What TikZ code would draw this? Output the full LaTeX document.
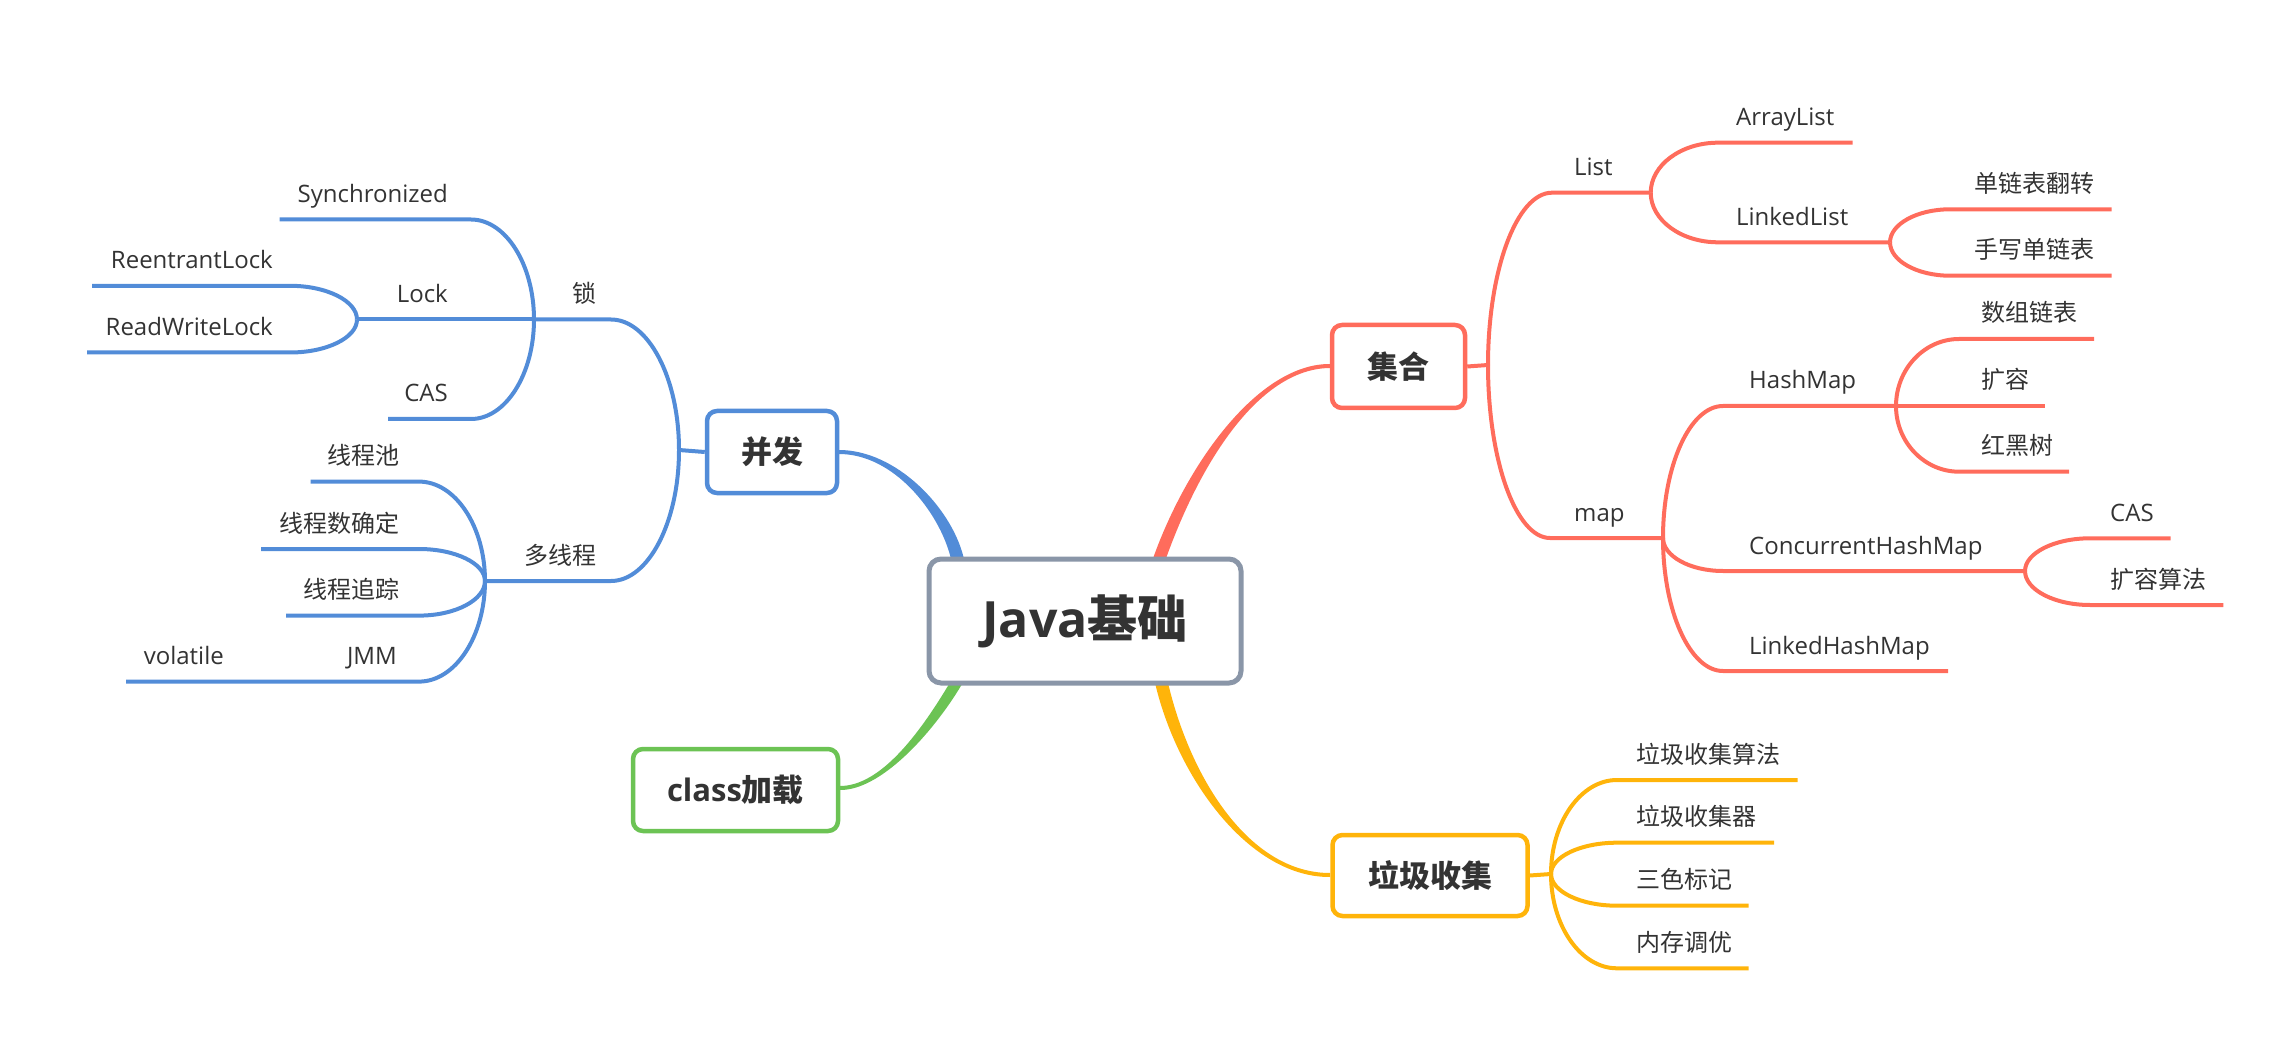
\documentclass[tikz,border=0pt]{standalone}
\usepackage{fontspec}
\setmainfont{Open Sans}
\newfontfamily\cjk{Noto Sans CJK SC}
\definecolor{cblue}{RGB}{82,140,216}
\definecolor{cred}{RGB}{255,108,92}
\definecolor{corange}{RGB}{255,180,10}
\definecolor{cgreen}{RGB}{108,195,84}
\definecolor{cgray}{RGB}{138,150,168}
\definecolor{ctext}{RGB}{51,51,51}
\tikzset{
  lblR/.style={anchor=base east, inner sep=0pt, text=ctext, font=\fontsize{24}{28}\selectfont},
  lblL/.style={anchor=base west, inner sep=0pt, text=ctext, font=\fontsize{24}{28}\selectfont},
  catbox/.style={draw=#1, line width=4.5pt, rounded corners=10pt, fill=white, text=ctext,
    font=\fontsize{31}{36}\selectfont\bfseries, inner sep=0pt},
  mainbox/.style={draw=cgray, line width=5pt, rounded corners=12pt, fill=white, text=ctext,
    font=\fontsize{50}{56}\selectfont\bfseries, inner sep=0pt},
  brline/.style={draw=#1, line width=4pt},
}
% branch: style, x0,y0 (junction), x1,y1 (corner), x2 (end of horizontal)
\newcommand{\mmbr}[6]{%
  \draw[brline=#1] (#2,#3) .. controls (#2,{#3+0.55*(#5-#3)}) and ({#2+0.45*(#4-#2)},#5) .. (#4,#5) -- (#6,#5);}
\begin{document}
\begin{tikzpicture}[x=1pt,y=-1pt]
\useasboundingbox (0,0) rectangle (2295,1064);

% ---------- tapered main connectors ----------
\fill[cblue] (839,450) .. controls (896,450) and (951,507) .. (963.5,557)
  -- (950.5,557) .. controls (939,512) and (894,454) .. (839,454) -- cycle;
\fill[cred] (1153.5,557) .. controls (1188.5,460) and (1260,363.5) .. (1330,364)
  -- (1330,368) .. controls (1260,368.5) and (1201.5,460) .. (1166.5,557) -- cycle;
\fill[cgreen] (948.5,685) .. controls (918.5,735) and (880,786) .. (840,786)
  -- (840,790) .. controls (880,790.5) and (931.5,735) .. (961.5,685) -- cycle;
\fill[corange] (1168.5,685) .. controls (1191.5,780) and (1250,873) .. (1330,873)
  -- (1330,877) .. controls (1250,877.5) and (1178.5,780) .. (1155.5,685) -- cycle;

% ---------- boxes ----------
\node[mainbox, minimum width=312pt, minimum height=124pt] (root) at (1085,621) {Java{\cjk 基础}};
\node[catbox=cblue, minimum width=130pt, minimum height=82pt] (bf) at (772,452) {\cjk 并发};
\node[catbox=cred, minimum width=133pt, minimum height=83pt] (jh) at (1398.5,366.5) {\cjk 集合};
\node[catbox=corange, minimum width=195pt, minimum height=81pt] (lj) at (1430,875.5) {\cjk 垃圾收集};
\node[catbox=cgreen, minimum width=205pt, minimum height=82pt] (cl) at (735.5,790) {class{\cjk 加载}};

% ---------- blue branches ----------
\coordinate (bfj) at (679,450);
\draw[brline=cblue] (bf.west) -- (bfj);
\mmbr{cblue}{679}{450}{611}{319.5}{534}
\mmbr{cblue}{679}{450}{611}{581}{485}
\mmbr{cblue}{534}{319.5}{471}{219.5}{279.5}
\draw[brline=cblue] (534,319.5) -- (357,319.5);
\mmbr{cblue}{534}{319.5}{471}{419}{388}
\mmbr{cblue}{357}{319.5}{290}{285.8}{92}
\mmbr{cblue}{357}{319.5}{290}{352.5}{87}
\mmbr{cblue}{485}{581}{419}{481.6}{310.6}
\mmbr{cblue}{485}{581}{419}{549}{261}
\mmbr{cblue}{485}{581}{419}{615.6}{286}
\mmbr{cblue}{485}{581}{419}{681.6}{126}

\node[lblR] (suo) at (597,302.5) {\cjk 锁};
\node[lblR] (dxc) at (597,564) {\cjk 多线程};
\node[lblR] (syn) at (448,202.5) {Synchronized};
\node[lblR] (lck) at (448,302.5) {Lock};
\node[lblR] (cas1) at (448,402) {CAS};
\node[lblR] (rel) at (273,268.8) {ReentrantLock};
\node[lblR] (rwl) at (273,335.5) {ReadWriteLock};
\node[lblR] (xcc) at (400,464.6) {\cjk 线程池};
\node[lblR] (xcs) at (400,532) {\cjk 线程数确定};
\node[lblR] (xcz) at (400,598.6) {\cjk 线程追踪};
\node[lblR] (jmm) at (397,664.6) {JMM};
\node[lblR] (vol) at (224,664.6) {volatile};

% ---------- red branches ----------
\coordinate (jhj) at (1488,365);
\draw[brline=cred] (jh.east) -- (jhj);
\mmbr{cred}{1488}{365}{1552}{192.7}{1650.7}
\mmbr{cred}{1488}{365}{1550}{538}{1663}
\mmbr{cred}{1650.7}{192.7}{1718}{142.7}{1852.6}
\mmbr{cred}{1650.7}{192.7}{1718}{242.3}{1890}
\mmbr{cred}{1890}{242.3}{1950}{209.3}{2111.5}
\mmbr{cred}{1890}{242.3}{1950}{275.7}{2111.5}
\mmbr{cred}{1663}{538}{1723}{406}{1896}
\mmbr{cred}{1663}{538}{1723}{571}{2025}
\mmbr{cred}{1663}{538}{1723}{671}{1948}
\mmbr{cred}{1896}{406}{1959}{339}{2094}
\draw[brline=cred] (1896,406) -- (2044.5,406);
\mmbr{cred}{1896}{406}{1959}{471.7}{2069}
\mmbr{cred}{2025}{571}{2090}{538.3}{2170.7}
\mmbr{cred}{2025}{571}{2090}{605}{2223.3}

\node[lblL] (lst) at (1574,175.7) {List};
\node[lblL] (map) at (1574,521) {map};
\node[lblL] (arl) at (1736,125.7) {ArrayList};
\node[lblL] (lkl) at (1736,225.3) {LinkedList};
\node[lblL] (dlf) at (1974,192.3) {\cjk 单链表翻转};
\node[lblL] (sxd) at (1974,258.7) {\cjk 手写单链表};
\node[lblL] (hm) at (1749,389) {HashMap};
\node[lblL] (chm) at (1749,554) {ConcurrentHashMap};
\node[lblL] (lhm) at (1749,654) {LinkedHashMap};
\node[lblL] (szl) at (1981,322) {\cjk 数组链表};
\node[lblL] (kr) at (1981,389) {\cjk 扩容};
\node[lblL] (hhs) at (1981,454.7) {\cjk 红黑树};
\node[lblL] (cas2) at (2110,521.3) {CAS};
\node[lblL] (krsf) at (2110,588) {\cjk 扩容算法};

% ---------- orange branches ----------
\coordinate (ljj) at (1551,874);
\draw[brline=corange] (lj.east) -- (ljj);
\mmbr{corange}{1551}{874}{1617}{780}{1797.5}
\mmbr{corange}{1551}{874}{1617}{842.7}{1774}
\mmbr{corange}{1551}{874}{1617}{905.7}{1748.5}
\mmbr{corange}{1551}{874}{1617}{968.3}{1748.5}

\node[lblL] (g1) at (1636,763) {\cjk 垃圾收集算法};
\node[lblL] (g2) at (1636,825.7) {\cjk 垃圾收集器};
\node[lblL] (g3) at (1636,888.7) {\cjk 三色标记};
\node[lblL] (g4) at (1636,951.3) {\cjk 内存调优};
\end{tikzpicture}
\end{document}
